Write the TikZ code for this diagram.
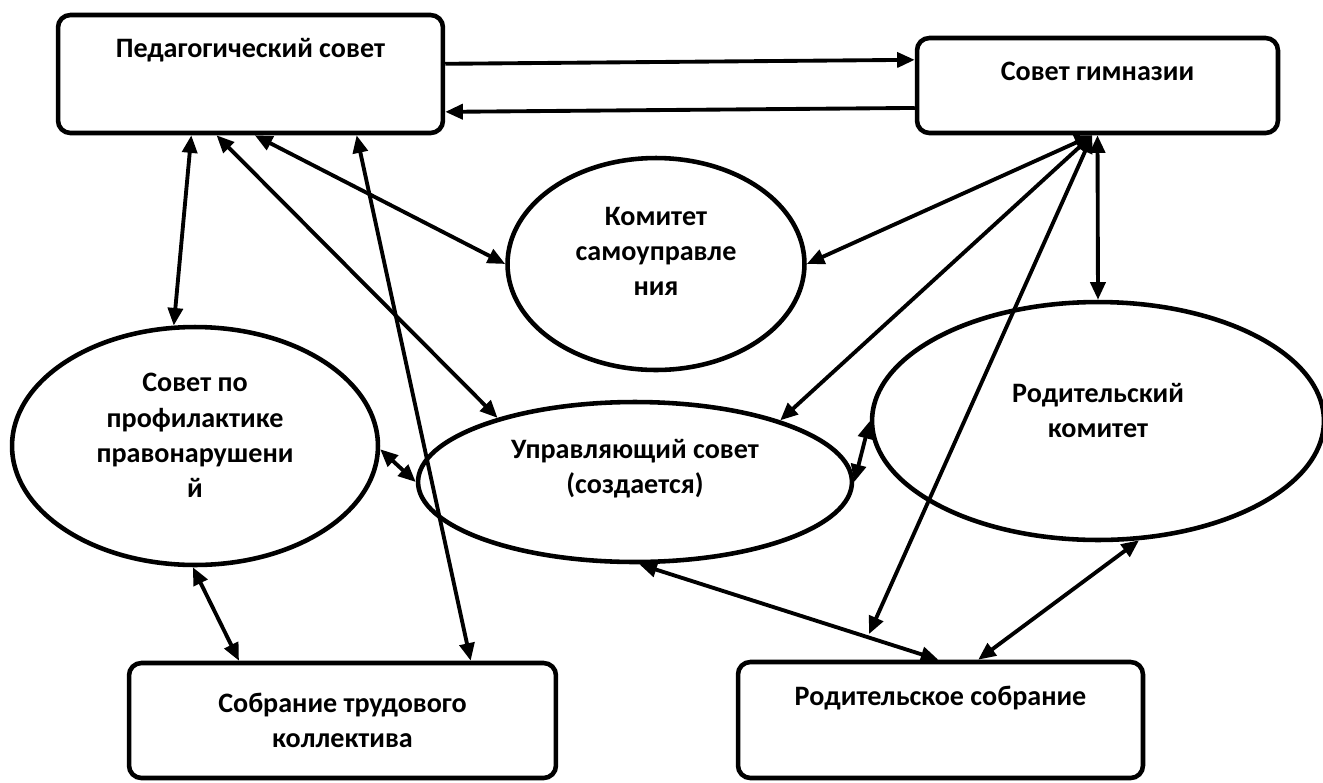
\documentclass[tikz,border=0pt]{standalone}
\usepackage{fontspec}
\setmainfont{Carlito}
\usetikzlibrary{arrows.meta,shapes.geometric}
\tikzset{
  box/.style={draw, line width=2.6pt, rounded corners=7pt, inner sep=0pt, align=center},
  oval/.style={draw, ellipse, line width=2.6pt, inner sep=0pt, align=center},
  link/.style={line width=2.2pt, {Triangle[length=10pt,width=8.5pt]}-{Triangle[length=10pt,width=8.5pt]}},
  onelink/.style={line width=2.2pt, -{Triangle[length=10pt,width=8.5pt]}},
}
\begin{document}
\begin{tikzpicture}[x=0.02cm, y=-0.02cm, font=\fontsize{16}{20}\selectfont\bfseries]
\useasboundingbox (0,0) rectangle (1323,782);

% boxes
\node[box, minimum width=7.7cm, minimum height=2.36cm, text height=0.84cm, text depth=1.52cm] (ped) at (250.5,74) {Педагогический совет};
\node[box, minimum width=7.22cm, minimum height=1.9cm, text height=0.84cm, text depth=1.06cm] (gym) at (1097.5,85.5) {Совет гимназии};
\node[box, minimum width=8.54cm, minimum height=2.3cm] (sobr) at (342.5,720.5) {Собрание трудового\\коллектива};
\node[box, minimum width=8.1cm, minimum height=2.32cm, text height=0.86cm, text depth=1.46cm] (rodsobr) at (940.5,720) {Родительское собрание};

% ellipses
\node[oval, minimum width=5.94cm, minimum height=4.24cm, text depth=14pt] (komitet) at (656,264) {Комитет\\самоуправле\\ния};
\node[oval, minimum width=7.32cm, minimum height=4.76cm, text depth=12pt] (prof) at (195,446) {Совет по\\профилактике\\правонарушени\\й};
\node[oval, minimum width=8.68cm, minimum height=3.2cm, text depth=18pt] (upr) at (635,482) {Управляющий совет\\(создается)};
\node[oval, minimum width=9.04cm, minimum height=4.76cm, text depth=12pt] (rodkom) at (1098,421) {Родительский\\комитет};

% links
\draw[onelink] (ped.3.6) -- (gym.172.6);
\draw[onelink] (gym.187.7) -- (ped.349.4);
\draw[link] (ped.226) -- (prof.100);
\draw[link] (ped.241) -- (upr.155);
\draw[link] (ped.274) -- (komitet.180);
\draw[link] (ped.330) -- (sobr.25.5);
\draw[link] (gym.264.6) -- (komitet.0);
\draw[link] (gym.264.6) -- (upr.23);
\draw[link] (gym.270) -- (rodkom.90);
\draw[link, shorten >=16pt] (gym.264.6) -- (rodsobr.144);
\draw[link] (prof.359) -- (upr.180);
\draw[link] (prof.269) -- (sobr.150);
\draw[link] (upr.0) -- (rodkom.180);
\draw[link] (upr.273) -- (rodsobr.92);
\draw[link] (rodkom.289.5) -- (rodsobr.58);
\end{tikzpicture}
\end{document}
